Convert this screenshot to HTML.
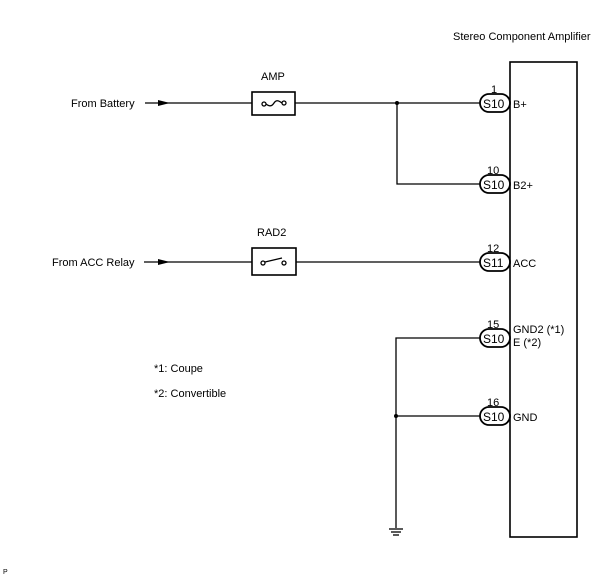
<!DOCTYPE html>
<html><head><meta charset="utf-8"><style>
html,body{margin:0;padding:0;background:#fff;width:605px;height:578px;overflow:hidden}
text{font-family:"Liberation Sans",Arial,sans-serif;fill:#000}
</style></head><body>
<svg width="605" height="578" viewBox="0 0 605 578" xmlns="http://www.w3.org/2000/svg">
<g stroke="#000" stroke-width="1.3" fill="none">
<rect x="510" y="62" width="67" height="475" stroke-width="1.6"/>
<line x1="145" y1="103" x2="252" y2="103"/>
<line x1="295" y1="103" x2="480" y2="103"/>
<rect x="252" y="92" width="43" height="23" stroke-width="1.6"/>
<polyline points="397,103 397,184 480,184"/>
<line x1="144" y1="262" x2="252" y2="262"/>
<line x1="296" y1="262" x2="480" y2="262"/>
<rect x="252" y="248" width="44" height="27" stroke-width="1.6"/>
<polyline points="480,338 396,338 396,528"/>
<line x1="396" y1="416" x2="480" y2="416"/>
<line x1="389" y1="529" x2="403" y2="529"/>
<line x1="391" y1="532" x2="401" y2="532"/>
<line x1="393" y1="535" x2="399" y2="535"/>
<circle cx="264" cy="104" r="2" fill="#fff"/>
<circle cx="284" cy="103" r="2" fill="#fff"/>
<path d="M266,104 C270,107 272,106 274,103 C276,100 278,100 282,103"/>
<circle cx="263" cy="263" r="2" fill="#fff"/>
<circle cx="284" cy="263" r="2" fill="#fff"/>
<line x1="265" y1="262" x2="282" y2="258"/>
<g stroke-width="1.8" fill="#fff">
<rect x="480" y="94" width="30" height="18" rx="9"/>
<rect x="480" y="175" width="30" height="18" rx="9"/>
<rect x="480" y="253" width="30" height="18" rx="9"/>
<rect x="480" y="329" width="30" height="18" rx="9"/>
<rect x="480" y="407" width="30" height="18" rx="9"/>
</g>
</g>
<g fill="#000" stroke="none">
<circle cx="397" cy="103" r="2"/>
<circle cx="396" cy="416" r="2"/>
<polygon points="158,100 170,103 158,106"/>
<polygon points="158,259 170,262 158,265"/>
</g>
<g font-size="11">
<text x="453" y="40">Stereo Component Amplifier</text>
<text x="261" y="80">AMP</text>
<text x="257" y="236">RAD2</text>
<text x="71" y="107">From Battery</text>
<text x="52" y="266">From ACC Relay</text>
<g font-size="12">
<text x="483" y="108">S10</text>
<text x="483" y="189">S10</text>
<text x="483" y="267">S11</text>
<text x="483" y="343">S10</text>
<text x="483" y="421">S10</text>
</g>
<text x="491" y="93">1</text>
<text x="487" y="174">10</text>
<text x="487" y="252">12</text>
<text x="487" y="328">15</text>
<text x="487" y="406">16</text>
<text x="513" y="108">B+</text>
<text x="513" y="189">B2+</text>
<text x="513" y="267">ACC</text>
<text x="513" y="333">GND2 (*1)</text>
<text x="513" y="346">E (*2)</text>
<text x="513" y="421">GND</text>
<text x="154" y="372">*1: Coupe</text>
<text x="154" y="397">*2: Convertible</text>
<text x="3" y="574" font-size="7">P</text>
</g>
</svg>
</body></html>
